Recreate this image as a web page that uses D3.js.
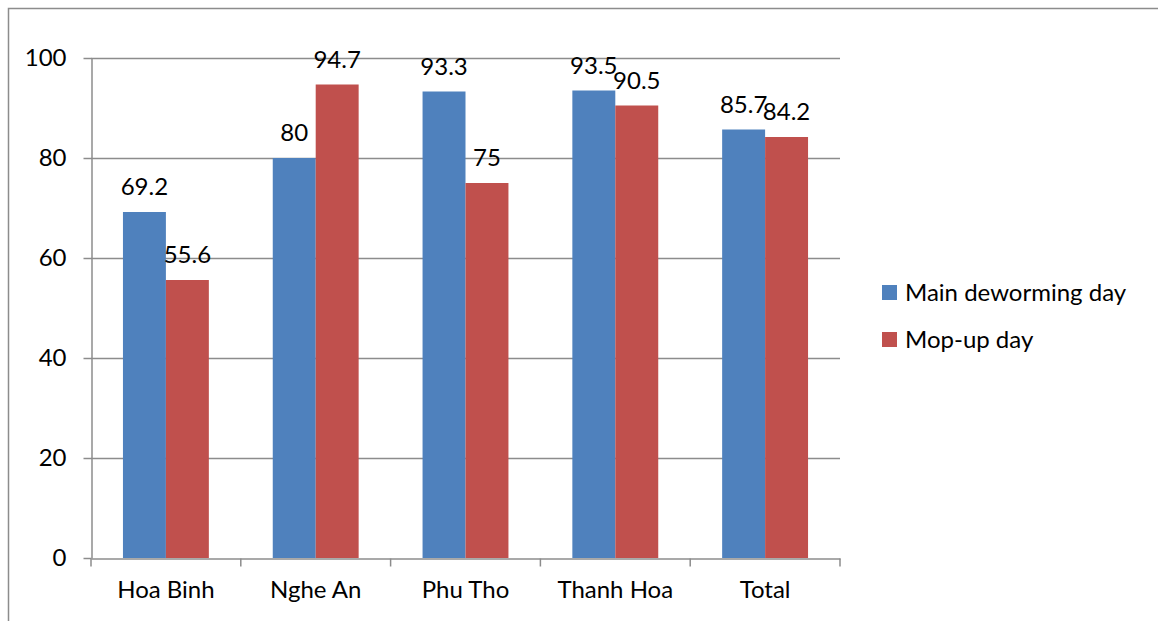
<!DOCTYPE html>
<html><head><meta charset="utf-8">
<script src="https://cdn.jsdelivr.net/npm/d3@7"></script>
<style>body{margin:0;background:#fff}</style>
</head><body>
<svg id="c" width="1158" height="621"></svg>
<script>
const categories = ["Hoa Binh","Nghe An","Phu Tho","Thanh Hoa","Total"];
const seriesNames = ["Main deworming day","Mop-up day"];
const mainDay = [69.2,80,93.3,93.5,85.7];
const mopUp = [55.6,94.7,75,90.5,84.2];
const yTicks = [0,20,40,60,80,100];
const colors = ["#4F81BD","#C0504D"];

(function(){
const svg = d3.select("#c");
const font = "Lato, 'Open Sans', sans-serif";
const fs = 24;
// frame
svg.append("path").attr("d","M8.5,621 V8.5 H1158").attr("fill","none").attr("stroke","#8c8c8c").attr("stroke-width",1.5);

const pL=91, pR=840, pT=58, pB=558;
const x = d3.scaleBand().domain(categories).range([pL,pR]);
const y = d3.scaleLinear().domain([0,100]).range([pB,pT]);
const inner = d3.scaleBand().domain([0,1]).range([0,x.bandwidth()]).paddingOuter(0.744).paddingInner(0);

// gridlines
svg.append("g").selectAll("line").data(yTicks.filter(d=>d>0)).join("line")
  .attr("x1",pL).attr("x2",pR).attr("y1",d=>y(d)+0.5).attr("y2",d=>y(d)+0.5)
  .attr("stroke","#8c8c8c").attr("stroke-width",1.5);

// bars
const data = categories.map((c,i)=>[mainDay[i],mopUp[i]]);
const g = svg.append("g");
categories.forEach((c,i)=>{
  data[i].forEach((v,s)=>{
    g.append("rect").attr("x",x(c)+inner(s)).attr("width",inner.bandwidth())
      .attr("y",y(v)).attr("height",y(0)-y(v)).attr("fill",colors[s]);
    g.append("text").attr("x",x(c)+inner(s)+inner.bandwidth()/2).attr("y",y(v)-17)
      .attr("text-anchor","middle").attr("font-family",font).attr("font-size",fs).attr("fill","#000").text(v);
  });
});

// y axis
const ya = svg.append("g").attr("transform",`translate(${pL+0.5},0)`)
  .call(d3.axisLeft(y).tickValues(yTicks).tickSize(8).tickPadding(17).tickSizeOuter(0));
ya.select(".domain").attr("stroke","#8c8c8c").attr("stroke-width",1.5);
ya.selectAll(".tick line").attr("stroke","#8c8c8c").attr("stroke-width",1.5);
ya.selectAll("text").attr("font-family",font).attr("font-size",fs).attr("fill","#000");

// x axis
const xa = svg.append("g").attr("transform",`translate(0,${pB+0.5})`)
  .call(d3.axisBottom(x).tickSize(0).tickPadding(22));
xa.select(".domain").attr("stroke","#8c8c8c").attr("stroke-width",1.5);
xa.selectAll("text").attr("font-family",font).attr("font-size",fs).attr("fill","#000");
const bnds = categories.map(c=>x(c)).concat([pR]);
xa.selectAll(".sep").data(bnds).join("line").attr("class","sep")
  .attr("x1",d=>d).attr("x2",d=>d).attr("y1",0).attr("y2",8).attr("stroke","#8c8c8c").attr("stroke-width",1.5);

// legend
const lg = svg.append("g").attr("transform","translate(882,285)");
seriesNames.forEach((n,i)=>{
  lg.append("rect").attr("x",0).attr("y",i*47).attr("width",15).attr("height",15).attr("fill",colors[i]);
  lg.append("text").attr("x",23).attr("y",i*47+16).attr("font-family",font).attr("font-size",fs).attr("fill","#000").text(n);
});
})();
</script>
</body></html>
